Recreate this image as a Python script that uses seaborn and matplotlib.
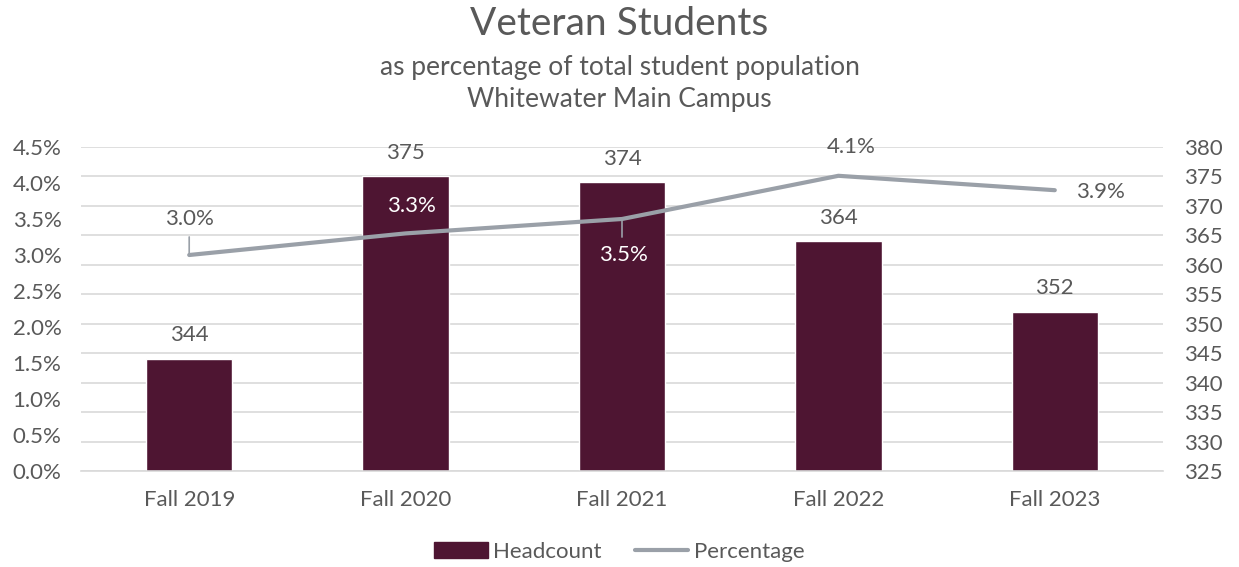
import matplotlib
matplotlib.use("Agg")
import matplotlib.pyplot as plt
import seaborn as sns
import pandas as pd
from matplotlib.ticker import FuncFormatter, MultipleLocator, FixedLocator
from matplotlib.patches import Patch
from matplotlib.lines import Line2D

terms = ["Fall 2019", "Fall 2020", "Fall 2021", "Fall 2022", "Fall 2023"]
headcount = [344, 375, 374, 364, 352]
percentage = [3.0, 3.3, 3.5, 4.1, 3.9]

sns.set_theme(style="white")
plt.rcParams['font.family'] = ['Lato', 'DejaVu Sans']

TXT = "#595959"
BAR = "#4E1532"
LINE = "#9AA0A8"
GRID = "#D9D9D9"
FS = 16

df = pd.DataFrame({"term": terms, "headcount": headcount, "pct": percentage})

fig = plt.figure(figsize=(12.39, 5.67), dpi=100)
ax = fig.add_axes([81/1239, 1-471/567, (1163-81)/1239, (471-147)/567])

sns.barplot(data=df, x="term", y="headcount", color=BAR, width=0.4,
            saturation=1, ax=ax, zorder=2)
ax.set_ylim(325, 380)
ax.yaxis.set_major_locator(MultipleLocator(5))
ax.grid(axis="y", color=GRID, linewidth=1.2, zorder=0)
ax.set_axisbelow(True)
ax.set_xlim(-0.5, 4.5)
ax.set_xlabel("")
ax.set_ylabel("")
for s in ["top", "left", "right"]:
    ax.spines[s].set_visible(False)
ax.spines["bottom"].set_color(GRID)
ax.spines["bottom"].set_linewidth(1.2)
ax.tick_params(axis="x", which="major", length=0, pad=14, labelsize=FS, labelcolor=TXT)
ax.xaxis.set_minor_locator(FixedLocator([-0.5, 0.5, 1.5, 2.5, 3.5, 4.5]))
ax.tick_params(axis="x", which="minor", length=6, color=GRID, width=1.2)

for i, v in enumerate(headcount):
    ax.annotate(str(v), (i, v), xytext=(0, 17), textcoords="offset points",
                ha="center", va="center", fontsize=FS, color=TXT)

ax2 = ax.twinx()
sns.lineplot(data=df, x="term", y="pct", color=LINE, linewidth=3, ax=ax2,
             zorder=3, sort=False)
ax2.set_ylim(0, 4.5)
ax2.yaxis.set_major_locator(MultipleLocator(0.5))
ax2.yaxis.set_major_formatter(FuncFormatter(lambda v, p: f"{v:.1f}%"))
ax2.set_ylabel("")
ax2.set_xlabel("")
for s in ax2.spines.values():
    s.set_visible(False)

# bars' axis shows its ticks on the right, percentage axis on the left
ax.yaxis.tick_right()
ax.yaxis.set_label_position("right")
ax2.yaxis.tick_left()
ax.tick_params(axis="y", length=0, pad=15, labelsize=FS, labelcolor=TXT,
               left=False, labelleft=False, right=False, labelright=True)
ax2.tick_params(axis="y", length=0, pad=14, labelsize=FS, labelcolor=TXT,
                left=False, labelleft=True, right=False, labelright=False)

# percentage labels (offsets in points)
offsets = [(0, 26), (4, 20), (1, -26), (9, 21), (33, -1)]
colors = [TXT, "white", "white", TXT, TXT]
for i, (v, off, c) in enumerate(zip(percentage, offsets, colors)):
    ax2.annotate(f"{v:.1f}%", (i, v), xytext=off, textcoords="offset points",
                 ha="center", va="center", fontsize=FS, color=c, zorder=5)
# leader lines
ax2.annotate("", (0, percentage[0]), xytext=(0, 13), textcoords="offset points",
             arrowprops=dict(arrowstyle="-", color=LINE, lw=1.2, shrinkA=0, shrinkB=0))
ax2.annotate("", (2, percentage[2]), xytext=(0, -13), textcoords="offset points",
             arrowprops=dict(arrowstyle="-", color=LINE, lw=1.2, shrinkA=0, shrinkB=0))

fig.text(0.5, 1-24/567, "Veteran Students", ha="center", va="center",
         fontsize=28, color=TXT)
fig.text(0.5, 1-67/567, "as percentage of total student population", ha="center",
         va="center", fontsize=19, color=TXT)
fig.text(0.5, 1-100/567, "Whitewater Main Campus", ha="center",
         va="center", fontsize=19, color=TXT)

handles = [Patch(facecolor=BAR, edgecolor=BAR),
           Line2D([0], [0], color=LINE, linewidth=3)]
leg = fig.legend(handles, ["Headcount", "Percentage"], loc="center",
                 bbox_to_anchor=(0.5, 1-552/567), ncol=2, frameon=False,
                 fontsize=FS, handlelength=2.4, handleheight=0.7,
                 columnspacing=1.5, handletextpad=0.25)
for t in leg.get_texts():
    t.set_color(TXT)

fig.savefig("out.png", dpi=100)
